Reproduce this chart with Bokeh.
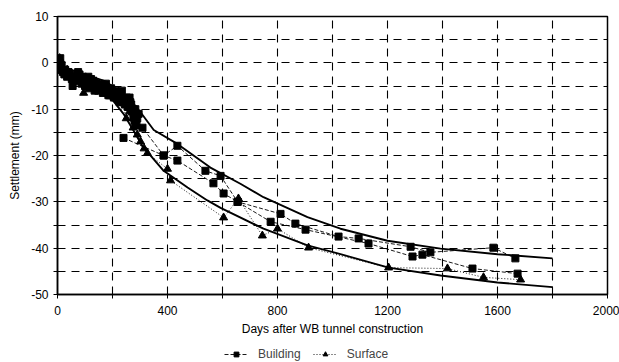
from bokeh.plotting import figure
from bokeh.layouts import column
from bokeh.models import FixedTicker, Legend, LegendItem
from bokeh.embed import file_html
from bokeh.resources import INLINE

# ---- data ----
building_a_days = [0, 5, 10, 15, 20, 28, 35, 45, 55, 62, 70, 80, 88, 95, 105, 115, 122, 130, 140, 148,
                   155, 165, 172, 180, 190, 198, 205, 215, 222, 230, 238, 245, 252, 258, 265, 270, 276,
                   283, 290, 309, 386, 436, 538, 593, 655, 811, 865, 1022, 1095, 1284, 1356, 1585, 1665]
building_a_mm = [-1, 0.5, 1, -0.5, -2, -1.5, -3, -2.5, -5, -3, -3.5, -2.5, -4.5, -3.5, -4, -5.5, -3.5, -5,
                 -4.5, -6, -5, -6.5, -5.5, -6, -7, -6.5, -7.5, -6.5, -8, -7, -8.5, -9, -7.5, -9.5, -8.5,
                 -10.5, -11.8, -10, -12, -14, -20, -17.9, -23.3, -24.4, -30, -32.6, -34.7, -37.5, -37.9,
                 -39.7, -40.9, -39.9, -42.2]

building_c_days = [3, 12, 25, 40, 52, 66, 75, 92, 100, 112, 127, 135, 152, 160, 176, 185, 195, 210,
                   218, 226, 234, 248, 255, 262, 268, 274, 280, 287, 295]
building_c_mm = [0, -1.5, -2.5, -2, -3.5, -4, -2, -3, -5, -3, -4, -6, -4.5, -5.5, -4.5, -7, -5.5, -6,
                 -7.5, -8.5, -6, -8, -9.5, -7.5, -9, -10, -12.5, -13.5, -11]

building_b_days = [240, 386, 436, 567, 604, 655, 775, 902, 1131, 1291, 1327, 1509, 1673]
building_b_mm = [-16.2, -20, -21.1, -26, -28.2, -30, -34.3, -36, -39, -41.8, -41.4, -44.4, -45.5]

surface_days = [0, 8, 15, 25, 35, 50, 65, 80, 95, 110, 125, 140, 160, 175, 190, 205, 220, 235, 250,
                262, 275, 290, 302, 315, 327, 400, 411, 604, 658, 745, 800, 913, 1204, 1418, 1549, 1684]
surface_mm = [-0.5, 1, -1, -2, -1.5, -3, -2.5, -4, -6.5, -3.5, -4.5, -4, -5, -5.5, -6.5, -6, -7, -8,
              -12, -10.5, -14, -15.5, -17, -18.5, -19.5, -22.9, -25.4, -33.4, -29.3, -37.3, -35.8,
              -39.9, -44.2, -44.4, -46.3, -46.8]

upper_days = [0, 100, 175, 265, 300, 350, 436, 556, 665, 749, 909, 1029, 1200, 1393, 1600, 1800]
upper_mm = [-0.5, -2.5, -4, -8, -10.5, -14.5, -17.5, -22.6, -26.1, -29, -33.3, -35.8, -38.4, -40.1,
            -41.3, -42.2]

lower_days = [0, 100, 200, 240, 280, 309, 386, 473, 545, 593, 749, 909, 1029, 1204, 1393, 1600, 1800]
lower_mm = [-2, -4.5, -8, -11, -15, -18, -23.3, -26.9, -29.7, -31.3, -35.8, -39.4, -41.3, -44.2,
            -45.9, -47.4, -48.4]

x_ticks = list(range(0, 2001, 200))
y_ticks = list(range(-50, 11, 5))
x_labels = {t: (str(t) if t % 400 == 0 else "") for t in x_ticks}
y_labels = {t: (str(t) if t % 10 == 0 else "") for t in y_ticks}

FONT = "Liberation Sans"

p1 = figure(width=619, height=340, x_range=(0, 2000), y_range=(-50, 10),
            output_backend="svg", toolbar_location=None,
            min_border_left=57, min_border_right=12, min_border_top=16, min_border_bottom=46)
p1.background_fill_color = "white"
p1.border_fill_color = "white"
p1.outline_line_color = "black"
p1.outline_line_width = 1.5

for ax, ticks, labels in ((p1.xaxis[0], x_ticks, x_labels), (p1.yaxis[0], y_ticks, y_labels)):
    ax.ticker = FixedTicker(ticks=ticks)
    ax.major_label_overrides = labels
    ax.minor_tick_line_color = None
    ax.major_tick_in = 4
    ax.major_tick_out = 4
    ax.axis_line_width = 1.5
    ax.axis_line_color = "black"
    ax.major_tick_line_color = "black"
    ax.major_label_text_font = FONT
    ax.major_label_text_font_size = "12px"
    ax.major_label_text_color = "black"
    ax.axis_label_text_font = FONT
    ax.axis_label_text_font_size = "12px"
    ax.axis_label_text_font_style = "normal"
    ax.axis_label_text_color = "black"

p1.xaxis.axis_label = "Days after WB tunnel construction"
p1.yaxis.axis_label = "Settlement (mm)"
p1.xaxis.major_label_standoff = 7
p1.xaxis.axis_label_standoff = 4
p1.yaxis.major_label_standoff = 5
p1.yaxis.axis_label_standoff = 6

for g in (p1.xgrid[0], p1.ygrid[0]):
    g.grid_line_color = "black"
    g.grid_line_width = 1.1
    g.grid_line_dash = "8 6"

# fitted envelope curves
p1.line(upper_days, upper_mm, line_color="black", line_width=1.9)
p1.line(lower_days, lower_mm, line_color="black", line_width=1.9)

# measured series
BLD_LINE = dict(line_color="black", line_width=0.9, line_dash="4 2")
SRF_LINE = dict(line_color="black", line_width=0.9, line_dash="1 2")
for d, v in ((building_a_days, building_a_mm), (building_c_days, building_c_mm),
             (building_b_days, building_b_mm)):
    p1.line(d, v, **BLD_LINE)
    p1.scatter(d, v, marker="square", size=7, color="black")
p1.line(surface_days, surface_mm, **SRF_LINE)
p1.scatter(surface_days, surface_mm, marker="triangle", size=8, color="black")

# legend strip below the chart (its renderers lie outside its visible range)
p2 = figure(width=619, height=22, x_range=(5000, 6000), y_range=(0, 1),
            output_backend="svg", toolbar_location=None, min_border=0)
p2.axis.visible = False
p2.grid.visible = False
p2.outline_line_color = None
p2.background_fill_color = "white"
p2.border_fill_color = "white"
lb = p2.line(building_a_days, building_a_mm, **BLD_LINE)
sb = p2.scatter(building_a_days, building_a_mm, marker="square", size=7, color="black")
lsf = p2.line(surface_days, surface_mm, **SRF_LINE)
ssf = p2.scatter(surface_days, surface_mm, marker="triangle", size=8, color="black")

legend = Legend(items=[LegendItem(label="Building", renderers=[lb, sb]),
                       LegendItem(label="Surface", renderers=[lsf, ssf])],
                orientation="horizontal", location=(167, 1),
                label_text_font=FONT, label_text_font_size="12px",
                glyph_width=24, glyph_height=12, label_height=12, label_standoff=10,
                spacing=12, padding=0, margin=0,
                border_line_color=None, background_fill_alpha=0)
p2.add_layout(legend, "center")

p = column(p1, p2, spacing=0)

open("out.html", "w").write(file_html(p, INLINE))
